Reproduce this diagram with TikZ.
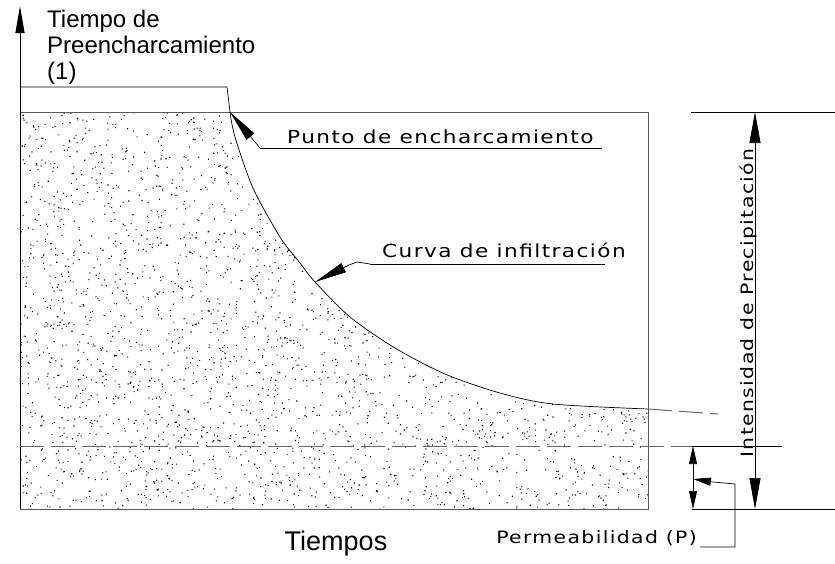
\documentclass[tikz,border=0pt]{standalone}
\usepackage{fontspec}
\setmainfont{Liberation Sans}
\newfontfamily\cadfont[FakeStretch=1.2, LetterSpace=8]{DejaVu Sans}
\usetikzlibrary{arrows.meta}

\begin{document}
\begin{tikzpicture}[x = 1pt, y = -1pt,
		cad/.style = {font = \cadfont\fontsize{18}{18}\selectfont, inner sep = 0pt},
		cadsmall/.style = {font = \cadfont\fontsize{17}{17}\selectfont, inner sep = 0pt},
		big/.style = {font = \fontsize{24}{26}\selectfont, inner sep = 0pt},
		frame/.style = {black!65, line width = 1pt},
		thin/.style = {black, line width = 0.7pt},
		dashline/.style = {black!60, line width = 1pt, dash pattern = on 24pt off 7pt},
		bigtip/.style = {-{Triangle[length = 31pt, width = 11pt]}},
		axistip/.style = {-{Triangle[length = 27pt, width = 9pt]}},
		smalltip/.style = {-{Triangle[length = 18pt, width = 8pt]}},
		leadtip/.style = {-{Triangle[length = 32pt, width = 10pt]}}]
		\def\mylinewidth{0.7pt}
		\useasboundingbox (0,0) rectangle (835,563);
		%--------------------

		\coordinate (pe) at (230,112);
		\coordinate (ci) at (315,282);
		\coordinate (ce) at (648,409);

		% stippled area under the curve
		\begin{scope}
			\clip (20,112) -- (pe) -- plot[smooth] coordinates {(230,112) (235,137) (253,188) (280,237) (300,263) (315,282) (350,317) (395,348) (445,374) (500,393) (553,404) (648,409)} -- (648,509) -- (20,509) -- cycle;
			\pgfmathsetseed{1234}
			\fill \foreach \i in {1,...,3600} {({20+628*rnd},{112+397*rnd}) rectangle ++(1.1,1.1)};
		\end{scope}

		\draw[frame] (20,112) rectangle (648,509);
		\draw[black, line width = 1pt, axistip] (20,509) -- (20,6);

		% infiltration curve
		\draw[thin] (20,87) -- (227,87) -- (pe);
		\draw[thin] plot[smooth] coordinates {(230,112) (235,137) (253,188) (280,237) (300,263) (315,282) (350,317) (395,348) (445,374) (500,393) (553,404) (648,409)};
		\draw[dashline] (ce) -- (718,414);
		\draw[dashline] (20,446) -- (718,446);

		%--------------------
		\node[big, anchor = north west, align = left] (tiempo) at (47,10) {Tiempo de\\Preencharcamiento\\(1)};
		\node[font = \fontsize{27}{27}\selectfont, inner sep = 0pt, anchor = base] (tiempos) at (336,550) {Tiempos};

		\node[cad, anchor = base west] (punto) at (287,143) {Punto de encharcamiento};
		\coordinate (pu) at (260,148);
		\coordinate (pv) at (602,148);
		\draw[thin] (pv) -- (pu);
		\draw[thin, leadtip] (pu) -- (pe);

		\node[cad, anchor = base west] (curva) at (382,257) {Curva de infiltración};
		\coordinate (cu) at (370,264);
		\coordinate (cv) at (605,264);
		\draw[thin] (cv) -- (cu);
		\draw[thin, leadtip] (cu) -- (357,262) -- (349,265) -- (ci);

		%--------------------
		\draw[thin] (691,112) -- (835,112);
		\draw[thin] (692,509) -- (835,509);
		\draw[thin] (692,446) -- (782,446);

		\coordinate (it) at (755,112);
		\coordinate (ib) at (755,509);
		\draw[thin, bigtip] (755,300) -- (it);
		\draw[thin, bigtip] (755,300) -- (ib);
		\node[cadsmall, rotate = 90, anchor = base] (intens) at (753,303) {Intensidad de Precipitación};

		\coordinate (pt) at (693,446);
		\coordinate (pb) at (693,509);
		\coordinate (pp) at (693,479);
		\draw[thin, smalltip] (pp) -- (pt);
		\draw[thin, smalltip] (pp) -- (pb);

		\node[cadsmall, anchor = base east] (perm) at (697,543) {Permeabilidad (P)};
		\coordinate (pl) at (700,547);
		\draw[thin, smalltip] (pl) -- (735,547) -- (735,484) -- (713,482) -- (pp);
\end{tikzpicture}
\end{document}
